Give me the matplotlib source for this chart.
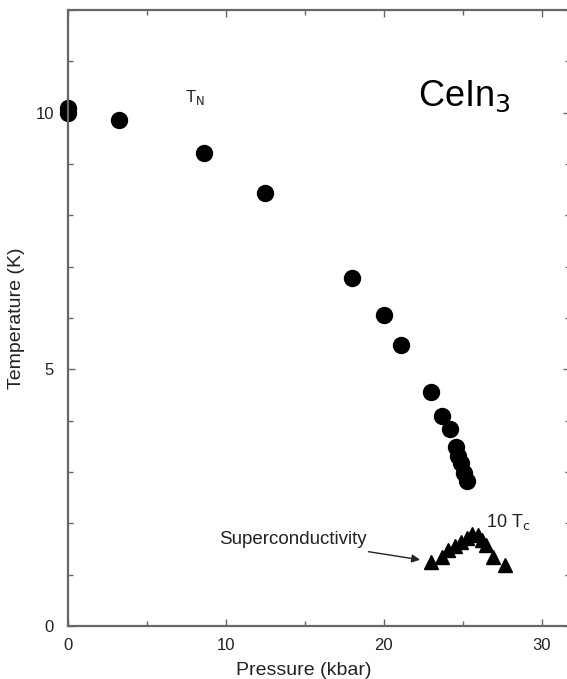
import matplotlib.pyplot as plt
from matplotlib.ticker import MultipleLocator

plt.rcParams["font.family"] = ["Liberation Sans", "DejaVu Sans"]

# T_N (circles)
tn_pressure = [0.0, 0.0, 3.2, 8.6, 12.5, 18.0, 20.0, 21.1, 23.0, 23.7, 24.2,
               24.55, 24.7, 24.9, 25.1, 25.3]
tn_temp = [10.1, 10.0, 9.86, 9.22, 8.43, 6.78, 6.06, 5.48, 4.56, 4.10, 3.84,
           3.48, 3.32, 3.17, 2.99, 2.83]

# 10 T_c (triangles)
tc_pressure = [23.0, 23.7, 24.1, 24.5, 24.9, 25.3, 25.6, 25.95, 26.25, 26.45,
               26.95, 27.7]
tc_temp = [1.25, 1.34, 1.48, 1.56, 1.63, 1.71, 1.80, 1.77, 1.67, 1.57,
           1.34, 1.18]

text_color = "#222222"
spine_color = "#666666"

fig = plt.figure(figsize=(5.67, 6.79), dpi=100)
ax = fig.add_axes([68 / 567, 53 / 679, 502 / 567, 616 / 679])

ax.plot(tn_pressure, tn_temp, "o", color="black", markersize=11.5, clip_on=False)
ax.plot(tc_pressure, tc_temp, "^", color="black", markersize=10, clip_on=False)

ax.set_xlim(0, 31.8)
ax.set_ylim(0, 12)

ax.xaxis.set_major_locator(MultipleLocator(10))
ax.xaxis.set_minor_locator(MultipleLocator(5))
ax.yaxis.set_major_locator(MultipleLocator(5))
ax.yaxis.set_minor_locator(MultipleLocator(1))
ax.tick_params(which="both", direction="in", top=True, right=True,
               color=spine_color, width=1, labelcolor=text_color, labelsize=12)
ax.tick_params(which="major", length=5)
ax.tick_params(which="minor", length=3.5)
ax.tick_params(axis="x", pad=9)
ax.tick_params(axis="y", pad=10)

for s in ax.spines.values():
    s.set_color(spine_color)
    s.set_linewidth(1.6)

ax.set_xlabel("Pressure (kbar)", fontsize=14, color=text_color)
ax.xaxis.set_label_coords(0.47, -0.058)
ax.set_ylabel("Temperature (K)", fontsize=14, color=text_color)
ax.yaxis.set_label_coords(-0.086, 0.5)

ax.text(7.4, 10.2, r"T$_\mathrm{N}$", fontsize=12, color=text_color)
ax.text(22.2, 10.13, r"CeIn$_3$", fontsize=26, color="black", ha="left")
ax.text(26.5, 1.93, r"10 T$_\mathrm{c}$", fontsize=13, color=text_color)
ax.annotate("Superconductivity", xy=(22.3, 1.29), xytext=(18.9, 1.68),
            fontsize=13.5, color=text_color, ha="right", va="center",
            arrowprops=dict(arrowstyle="-|>", color="#222222", lw=1,
                            shrinkA=3, shrinkB=0, mutation_scale=12))

fig.savefig("out.png", dpi=100)
